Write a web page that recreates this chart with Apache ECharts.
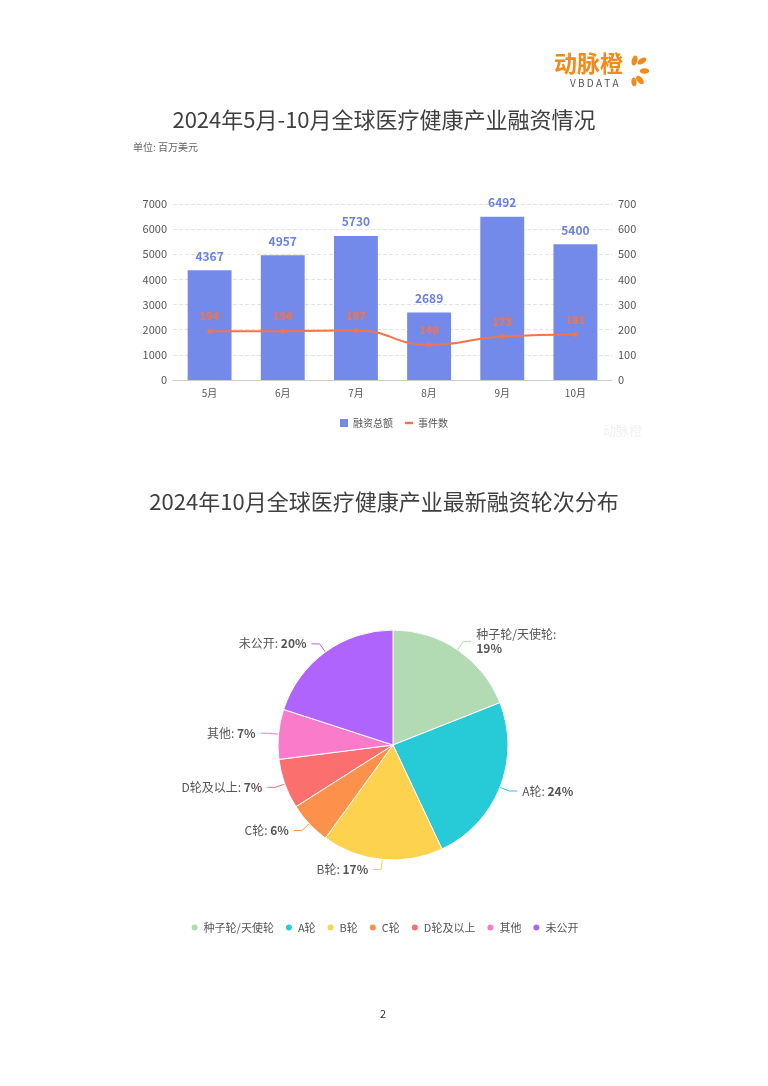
<!DOCTYPE html>
<html><head><meta charset="utf-8">
<script src="https://cdn.jsdelivr.net/npm/echarts@6/dist/echarts.min.js"></script>
<style>html,body{margin:0;padding:0;background:#fff;}#c{width:768px;height:1086px;}</style>
</head><body><div id="c"></div>
<script>
const months = ['5月','6月','7月','8月','9月','10月'];
const amounts = [4367, 4957, 5730, 2689, 6492, 5400];
const events = [194, 194, 197, 140, 173, 181];
const leftTicks = {min:0, max:7000, interval:1000};
const rightTicks = {min:0, max:700, interval:100};
const rounds = ['种子轮/天使轮','A轮','B轮','C轮','D轮及以上','其他','未公开'];
const shares = [19, 24, 17, 6, 7, 7, 20];
const roundColors = ['#b2dbb3','#27cbd7','#fdd24e','#fc914b','#fc6f6f','#f97bca','#b064fe'];

const FONT = '"Noto Sans CJK SC", "Noto Sans", sans-serif';
const chart = echarts.init(document.getElementById('c'), null, {renderer:'canvas'});

function petal(cx, cy, rx, ry, rot){
  return {type:'ellipse', shape:{cx:0, cy:0, rx:rx, ry:ry}, x:cx, y:cy, rotation:rot, style:{fill:'#f28a1c'}};
}

chart.setOption({
  backgroundColor:'#ffffff',
  textStyle:{fontFamily:FONT},
  title:[
    {text:'2024年5月-10月全球医疗健康产业融资情况', left:'center', top:104, textStyle:{fontSize:22, fontWeight:'normal', color:'#404040', fontFamily:FONT}},
    {text:'单位: 百万美元', left:128, top:137, textStyle:{fontSize:10, fontWeight:'normal', color:'#666', fontFamily:FONT}},
    {text:'2024年10月全球医疗健康产业最新融资轮次分布', left:'center', top:486, textStyle:{fontSize:22, fontWeight:'normal', color:'#404040', fontFamily:FONT}}
  ],
  graphic:[
    {type:'text', left:554, top:52, style:{text:'动脉橙', fontSize:23, fill:'#f28a1c', fontFamily:FONT, fontWeight:'bold'}},
    {type:'text', left:570, top:78, style:{text:'V B D A T A', fontSize:10, fill:'#555', fontFamily:FONT}},
    petal(634.5, 60.5, 2.8, 5.2, -0.25),
    petal(642, 61, 2.8, 5, -1.0),
    petal(644.5, 71, 2.7, 4.8, -1.57),
    petal(640, 80, 2.8, 5, 0.7),
    petal(634, 82, 2.6, 4.4, 0.1),
    {type:'text', left:603, top:424, style:{text:'动脉橙', fontSize:13, fill:'#f1f1f1', fontFamily:FONT}},
    {type:'text', left:380, top:1008, style:{text:'2', fontSize:11, fill:'#333', fontFamily:FONT}}
  ],
  legend:[
    {data:[{name:'融资总额', icon:'rect'}, {name:'事件数', icon:'path://M0,0h10v3h-10z'}],
     left:335, top:413, itemWidth:8, itemHeight:8, itemGap:12,
     textStyle:{fontSize:10, color:'#555', fontFamily:FONT}},
    {data:rounds, icon:'circle', left:'center', top:917, itemWidth:8, itemHeight:8, itemGap:10,
     textStyle:{fontSize:11, color:'#555', fontFamily:FONT}}
  ],
  grid:{left:173, right:156, top:204, bottom:706, containLabel:false},
  xAxis:{type:'category', data:months, axisTick:{show:false},
    axisLine:{lineStyle:{color:'#ccc'}},
    axisLabel:{fontSize:10, color:'#555', margin:8, fontFamily:FONT}},
  yAxis:[
    {type:'value', min:leftTicks.min, max:leftTicks.max, interval:leftTicks.interval,
     axisLabel:{fontSize:11, color:'#555', margin:6, formatter: v => String(v)},
     axisLine:{show:false}, axisTick:{show:false},
     splitLine:{lineStyle:{type:'dashed', color:'#e3e3e3'}}},
    {type:'value', min:rightTicks.min, max:rightTicks.max, interval:rightTicks.interval,
     axisLabel:{fontSize:11, color:'#555', margin:6, formatter: v => String(v)},
     axisLine:{show:false}, axisTick:{show:false}, splitLine:{show:false}}
  ],
  series:[
    {name:'融资总额', type:'bar', data:amounts, barWidth:'60%', yAxisIndex:0,
     itemStyle:{color:'#748aea'},
     label:{show:true, position:'top', distance:8, color:'#6a80e3', fontSize:12, fontWeight:'bold'}},
    {name:'事件数', type:'line', data:events, yAxisIndex:1, smooth:true,
     symbol:'circle', symbolSize:5, lineStyle:{color:'#f1754a', width:2},
     itemStyle:{color:'#f1754a'},
     label:{show:true, position:'top', distance:7, color:'#f1754a', fontSize:11, fontWeight:'bold',
            textShadowColor:'rgba(241,117,74,0.35)', textShadowBlur:3}},
    {name:'轮次', type:'pie', center:[393,745], radius:[0,115], startAngle:90, clockwise:true,
     data: rounds.map((n,i)=>({name:n, value:shares[i], itemStyle:{color:roundColors[i]}})),
     itemStyle:{borderColor:'#fff', borderWidth:1},
     labelLine:{length:10, length2:8, lineStyle:{width:1}},
     label:{show:true, fontSize:12, color:'#555',
       formatter: p => (p.name.indexOf('/')>=0 ? '{n|'+p.name+':}\n{v|'+p.value+'%}' : '{n|'+p.name+': }{v|'+p.value+'%}'),
       rich:{n:{fontSize:12, color:'#555', fontFamily:FONT, lineHeight:14},
             v:{fontSize:12, color:'#555', fontWeight:'bold', fontFamily:FONT, lineHeight:14}}}}
  ]
});
</script></body></html>
